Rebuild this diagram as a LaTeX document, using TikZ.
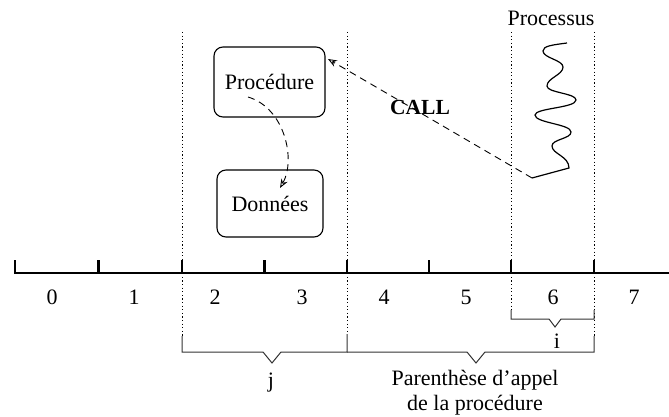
\documentclass[tikz,border=0pt]{standalone}
\usepackage{fontspec}
\setmainfont{Liberation Serif}
\usetikzlibrary{arrows.meta}
\begin{document}
\begin{tikzpicture}[x=1pt,y=-1pt,
  txt/.style={inner sep=0pt, font=\fontsize{22}{25}\selectfont},
  boxed/.style={draw, line width=1.1pt, rounded corners=9pt, inner sep=0pt, font=\fontsize{22}{25}\selectfont},
  axisline/.style={line width=2.6pt},
  guide/.style={line width=0.9pt, dash pattern=on 1.2pt off 2.4pt},
  brace/.style={line width=1pt, black!80},
  callarrow/.style={line width=0.9pt, dash pattern=on 7pt off 5pt, -{Stealth[open,length=9pt,width=7pt]}}]
\useasboundingbox (0,0) rectangle (669,417);

% nodes
\node[boxed, minimum width=111pt, minimum height=70pt] (proc) at (269.5,82) {Procédure};
\node[boxed, minimum width=106pt, minimum height=67pt] (donn) at (270,203.5) {Données};
\node[txt] (processus) at (551,18) {Processus};
\node[txt, font=\fontsize{21.5}{25}\selectfont\bfseries] (call) at (420,107) {CALL};

% guides
\draw[guide] (182,32) -- (182,336);
\draw[guide] (347,32) -- (347,334);
\draw[guide] (511,32) -- (511,312);
\draw[guide] (594,32) -- (594,336);

% axis
\draw[axisline] (15,273) -- (669,273);
\foreach \x in {15,98.5,182,264.5,347,429,511,594}
  \draw[axisline] (\x,260) -- (\x,274.3);
\foreach \x/\l in {52/0,134/1,215/2,302/3,384/4,466/5,553/6,634/7}
  \node[txt] at (\x,297) {\l};

% braces
\draw[brace] (182,336) -- (182,352) -- (263,352) -- (272,363) -- (281,352) -- (347,352) -- (347,334);
\draw[brace] (347,352) -- (467,352) -- (476,363) -- (485,352) -- (594,352) -- (594,336);
\draw[brace] (511,310) -- (511,319) -- (549,319) -- (555,327) -- (561,319) -- (594,319) -- (594,310);
\node[txt] (jl) at (271,383) {j};
\node[txt] (il) at (557,341) {i};
\node[txt, align=center] (par) at (475,393) {Parenthèse d'appel\\de la procédure};

% process wave
\coordinate (wstart) at (567,43);
\coordinate (wend) at (532,178);
\draw[line width=1.2pt] (wstart) .. controls (552,45) and (543,46) .. (543,51)
  .. controls (543,58) and (563,60) .. (563,67)
  .. controls (563,75) and (547,78) .. (547,86)
  .. controls (547,93) and (576,93) .. (576,100)
  .. controls (576,108) and (535,108) .. (535,115)
  .. controls (535,123) and (571,124) .. (571,132)
  .. controls (571,139) and (552,139) .. (552,146)
  .. controls (552,154) and (569,156) .. (569,168)
  -- (wend);

% arrows
\coordinate (ctip) at (328,59);
\draw[callarrow] (wend) -- (ctip);
\coordinate (pstart) at (248,97);
\coordinate (dtip) at (280,188);
\draw[callarrow] (pstart) .. controls (285,108) and (296,160) .. (dtip);
\end{tikzpicture}
\end{document}
